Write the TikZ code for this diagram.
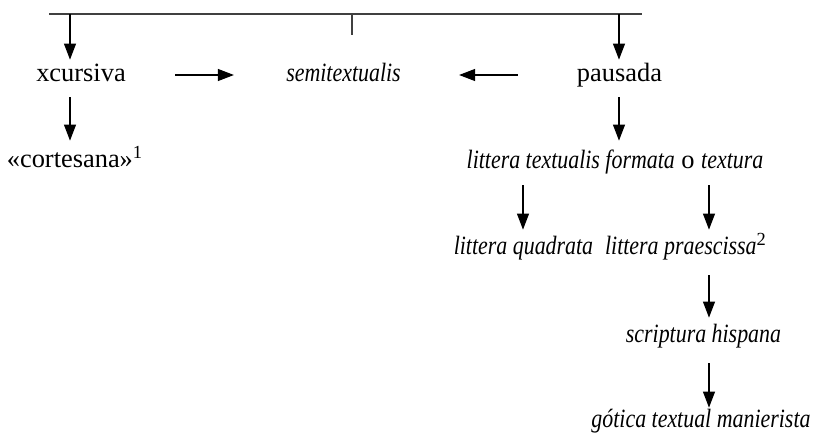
\documentclass[tikz,border=0pt]{standalone}
\usepackage{fontspec}
\setmainfont{Liberation Serif}[ItalicFeatures={FakeStretch=0.83}]
\usetikzlibrary{arrows.meta}
\begin{document}
\begin{tikzpicture}[x=0.5pt,y=-0.5pt,
  lbl/.style={anchor=base,inner sep=0pt,text height=9pt,text depth=3pt,font=\fontsize{13.2}{16}\selectfont},
  it/.style={lbl,font=\fontsize{13.2}{16}\selectfont\itshape},
  arr/.style={line width=0.55pt,-{Triangle[length=8pt,width=6pt]}},
  bar/.style={line width=0.8pt,draw=black!75}]
\useasboundingbox (0,0) rectangle (815,434);
% nodes
\node[lbl] (xc) at (81,81) {xcursiva};
\node[it] (semi) at (343.5,81) {semitextualis};
\node[lbl] (pau) at (619.5,81) {pausada};
\node[lbl] (cort) at (75,167) {«cortesana»\textsuperscript{1}};
\node[lbl] (ltf) at (615,168) {\textit{littera textualis formata} o \textit{textura}};
\node[it] (lq) at (523.5,254) {littera quadrata};
\node[it] (lp) at (686,254) {littera praescissa\textsuperscript{\upshape 2}};
\node[it] (sh) at (703.5,342) {scriptura hispana};
\node[it] (gt) at (701,427) {gótica textual manierista};
% top bar
\coordinate (bl) at (49,14);
\coordinate (br) at (642,14);
\coordinate (b1) at (70,14);
\coordinate (b2) at (352,14);
\coordinate (b3) at (619,14);
\coordinate (b2e) at (352,35);
\coordinate (c1) at (523,0);
\coordinate (c2) at (709,0);
\draw[bar] (bl) -- (br);
\draw[bar] (b2) -- (b2e);
% arrows
\draw[arr,shorten >=1.5pt] (b1) -- (b1 |- xc.north);
\draw[arr,shorten >=1.5pt] (b3) -- (b3 |- pau.north);
\draw[arr,shorten <=24.5pt,shorten >=26pt] (xc.east |- 0,75) -- (semi.west |- 0,75);
\draw[arr,shorten <=29.5pt,shorten >=29pt] (pau.west |- 0,75) -- (semi.east |- 0,75);
\draw[arr,shorten <=5pt,shorten >=4pt] (b1 |- xc.south) -- (b1 |- cort.north);
\draw[arr,shorten <=5pt,shorten >=4.5pt] (b3 |- pau.south) -- (b3 |- ltf.north);
\draw[arr,shorten <=5.5pt,shorten >=3pt] (c1 |- ltf.south) -- (c1 |- lq.north);
\draw[arr,shorten <=5.5pt,shorten >=3pt] (c2 |- ltf.south) -- (c2 |- lp.north);
\draw[arr,shorten <=7.5pt,shorten >=3pt] (c2 |- lp.south) -- (c2 |- sh.north);
\draw[arr,shorten <=7.5pt,shorten >=0.5pt] (c2 |- sh.south) -- (c2 |- gt.north);
\end{tikzpicture}
\end{document}
